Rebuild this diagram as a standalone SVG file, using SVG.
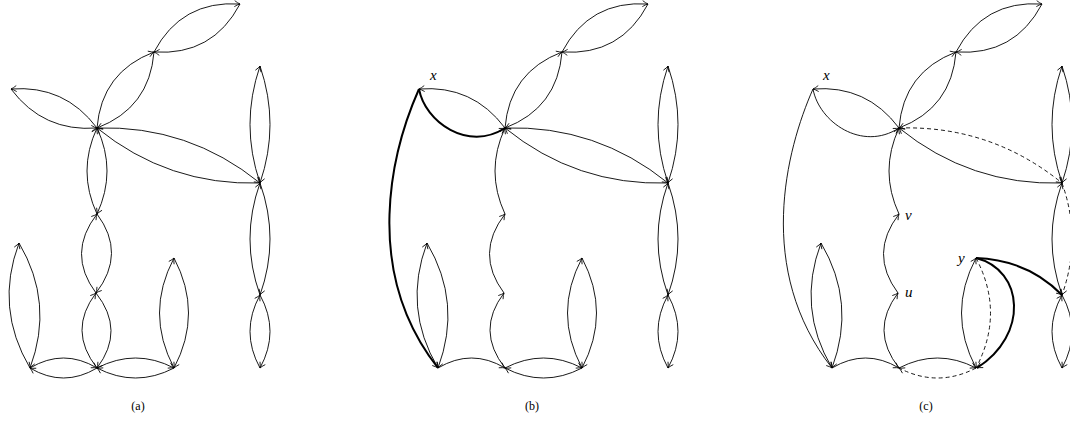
<svg xmlns="http://www.w3.org/2000/svg" width="1070" height="424" viewBox="0 0 1070 424">
<defs>
<marker id="ah" viewBox="-7 -4 8 8" refX="0" refY="0" markerWidth="8" markerHeight="8" markerUnits="userSpaceOnUse" orient="auto" overflow="visible">
<path d="M-5.5,-3 Q-2,-0.6 0,0 Q-2,0.6 -5.5,3" fill="none" stroke="#000" stroke-width="0.8"/>
</marker>
<style>
.e{fill:none;stroke:#000;stroke-width:0.9;marker-end:url(#ah)}
.t{stroke-width:2}
.d{stroke-dasharray:4 3}
.lbl{font-family:"Liberation Serif",serif;font-style:italic;font-size:15px;fill:#000}
.cap{font-family:"Liberation Serif",serif;font-size:12px;fill:#000;text-anchor:middle}
</style>
</defs>
<rect width="1070" height="424" fill="#fff"/>

<!-- Panel (a) -->
<g id="panel-a">
<g id="edges-a">
<path class="e" d="M154,52 Q181.4,0.1 240,4"/>
<path class="e" d="M240,4 Q212.6,55.9 154,52"/>
<path class="e" d="M97,128 Q101.5,72 154,52"/>
<path class="e" d="M154,52 Q149.5,108 97,128"/>
<path class="e" d="M97,128 Q64.7,84.8 11,89"/>
<path class="e" d="M11,89 Q43.3,132.2 97,128"/>
<path class="e" d="M97,128 Q188.7,125.2 260,183"/>
<path class="e" d="M260,183 Q168.3,185.8 97,128"/>
<path class="e" d="M260,183 Q240,124.5 260,66"/>
<path class="e" d="M260,66 Q280,124.5 260,183"/>
<path class="e" d="M260,295 Q240,239 260,183"/>
<path class="e" d="M260,183 Q280,239 260,295"/>
<path class="e" d="M260,368 Q240,331.5 260,295"/>
<path class="e" d="M260,295 Q280,331.5 260,368"/>
<path class="e" d="M97,214 Q77,171 97,128"/>
<path class="e" d="M97,128 Q117,171 97,214"/>
<path class="e" d="M96,293 Q66.5,253.5 97,214"/>
<path class="e" d="M97,214 Q126.5,253.5 96,293"/>
<path class="e" d="M97,368 Q67.5,330.5 96,293"/>
<path class="e" d="M96,293 Q125.5,330.5 97,368"/>
<path class="e" d="M30,368 Q-5.4,308.1 19,243"/>
<path class="e" d="M19,243 Q54.4,302.9 30,368"/>
<path class="e" d="M174,368 Q145,313 174,258"/>
<path class="e" d="M174,258 Q203,313 174,368"/>
<path class="e" d="M30,368 Q63.5,348 97,368"/>
<path class="e" d="M97,368 Q63.5,388 30,368"/>
<path class="e" d="M97,368 Q135.5,348 174,368"/>
<path class="e" d="M174,368 Q135.5,388 97,368"/>
</g>
<text id="cap-a" class="cap" x="138" y="410">(a)</text>
</g>

<!-- Panel (b) -->
<g id="panel-b" transform="translate(408,0)">
<g id="edges-b">
<path class="e" d="M154,52 Q181.4,0.1 240,4"/>
<path class="e" d="M240,4 Q212.6,55.9 154,52"/>
<path class="e" d="M97,128 Q101.5,72 154,52"/>
<path class="e" d="M154,52 Q149.5,108 97,128"/>
<path class="e" d="M97,128 Q64.7,84.8 11,89"/>
<path class="e t" d="M11,89 C17,122 60,152 97,128"/>
<path class="e t" d="M11,89 C-16,150 -47,270 30,368"/>
<path class="e" d="M97,128 Q188.7,125.2 260,183"/>
<path class="e" d="M260,183 Q168.3,185.8 97,128"/>
<path class="e" d="M260,183 Q240,124.5 260,66"/>
<path class="e" d="M260,66 Q280,124.5 260,183"/>
<path class="e" d="M260,295 Q240,239 260,183"/>
<path class="e" d="M260,183 Q280,239 260,295"/>
<path class="e" d="M260,368 Q240,331.5 260,295"/>
<path class="e" d="M260,295 Q280,331.5 260,368"/>
<path class="e" d="M97,214 Q77,171 97,128"/>
<path class="e" d="M96,293 Q66.5,253.5 97,214"/>
<path class="e" d="M97,368 Q67.5,330.5 96,293"/>
<path class="e" d="M30,368 Q-5.4,308.1 19,243"/>
<path class="e" d="M19,243 Q54.4,302.9 30,368"/>
<path class="e" d="M174,368 Q145,313 174,258"/>
<path class="e" d="M174,258 Q203,313 174,368"/>
<path class="e" d="M30,368 Q63.5,348 97,368"/>
<path class="e" d="M97,368 Q135.5,348 174,368"/>
<path class="e" d="M174,368 Q135.5,388 97,368"/>
</g>
<g id="node-b-x"><text class="lbl" x="22" y="80">x</text></g>
<text id="cap-b" class="cap" x="124" y="410">(b)</text>
</g>

<!-- Panel (c) -->
<g id="panel-c" transform="translate(802,0)">
<g id="edges-c">
<path class="e" d="M154,52 Q181.4,0.1 240,4"/>
<path class="e" d="M240,4 Q212.6,55.9 154,52"/>
<path class="e" d="M97,128 Q101.5,72 154,52"/>
<path class="e" d="M154,52 Q149.5,108 97,128"/>
<path class="e" d="M97,128 Q64.7,84.8 11,89"/>
<path class="e" d="M11,89 C17,122 60,152 97,128"/>
<path class="e" d="M11,89 C-16,150 -47,270 30,368"/>
<path class="e d" d="M97,128 Q188.7,125.2 260,183"/>
<path class="e" d="M260,183 Q168.3,185.8 97,128"/>
<path class="e" d="M260,183 Q240,124.5 260,66"/>
<path class="e" d="M260,66 Q280,124.5 260,183"/>
<path class="e" d="M260,295 Q240,239 260,183"/>
<path class="e d" d="M260,183 Q280,239 260,295"/>
<path class="e" d="M260,368 Q240,331.5 260,295"/>
<path class="e" d="M260,295 Q280,331.5 260,368"/>
<path class="e" d="M97,214 Q77,171 97,128"/>
<path class="e" d="M96,293 Q66.5,253.5 97,214"/>
<path class="e" d="M97,368 Q67.5,330.5 96,293"/>
<path class="e" d="M30,368 Q-5.4,308.1 19,243"/>
<path class="e" d="M19,243 Q54.4,302.9 30,368"/>
<path class="e" d="M174,368 Q145,313 174,258"/>
<path class="e d" d="M174,258 Q203,313 174,368"/>
<path class="e t" d="M174,258 C222,270 227,335 175,368"/>
<path class="e t" d="M174,258 Q226,260 260,295"/>
<path class="e" d="M30,368 Q63.5,348 97,368"/>
<path class="e" d="M97,368 Q135.5,348 174,368"/>
<path class="e d" d="M174,368 Q135.5,388 97,368"/>
</g>
<g id="node-c-x"><text class="lbl" x="21" y="80">x</text></g>
<g id="node-c-v"><text class="lbl" x="103" y="220">v</text></g>
<g id="node-c-u"><text class="lbl" x="103" y="297">u</text></g>
<g id="node-c-y"><text class="lbl" x="156" y="263">y</text></g>
<text id="cap-c" class="cap" x="124" y="410">(c)</text>
</g>
</svg>
